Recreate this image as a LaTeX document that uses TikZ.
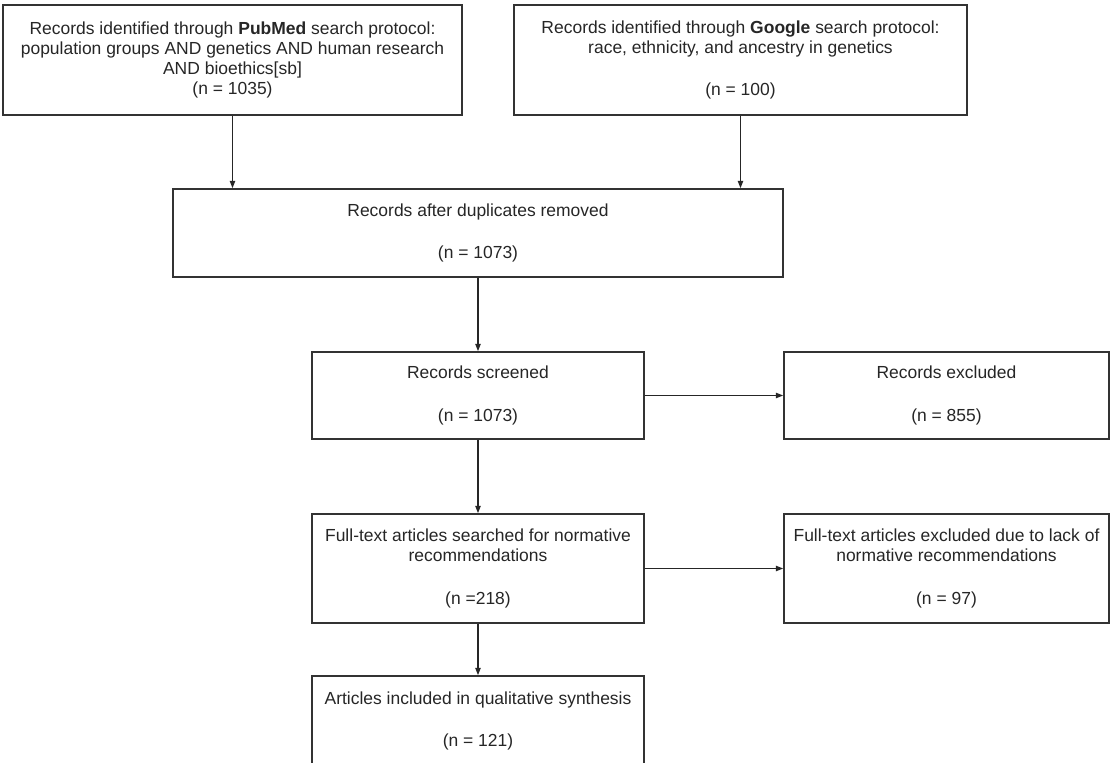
\documentclass[tikz,border=0pt]{standalone}
\usepackage{fontspec}
\setmainfont{Liberation Sans}
\usepackage{tikz}
\usetikzlibrary{arrows.meta}

\begin{document}
\begin{tikzpicture}[x = 0.75pt, y = -0.75pt, line width = 1.2pt,
                        box/.style = {rectangle, draw = black!80, align = center, inner sep = 0pt,
                                      font = \fontsize{13.1pt}{15pt}\selectfont, text = black!85},
                        arr/.style = {draw = black!85, line width = 1pt,
                                      -{Triangle[length = 5.5pt, width = 4pt]}}]
      \useasboundingbox (0, 0) rectangle (1110, 763);
      \node [box, minimum width = 344.25pt, minimum height = 82.5pt] (pub) at (232.5, 60)
            {Records identified through \textbf{PubMed} search protocol:\\
             population groups AND genetics AND human research\\
             AND bioethics[sb]\\ (n = 1035)};
      \node [box, minimum width = 339.75pt, minimum height = 82.5pt] (goo) at (740.5, 60)
            {Records identified through \textbf{Google} search protocol:\\
             race, ethnicity, and ancestry in genetics\\[17pt] (n = 100)};
      \node [box, minimum width = 457.5pt, minimum height = 66pt] (dup) at (478, 233)
            {Records after duplicates removed\\[17pt] (n = 1073)};
      \node [box, minimum width = 249pt, minimum height = 65.25pt] (scr) at (478, 395.5)
            {Records screened\\[17pt] (n = 1073)};
      \node [box, minimum width = 243.75pt, minimum height = 65.25pt] (exc) at (946.5, 395.5)
            {Records excluded\\[17pt] (n = 855)};
      \node [box, minimum width = 249pt, minimum height = 81.75pt] (full) at (478, 568.5)
            {Full-text articles searched for normative\\ recommendations\\[17pt] (n =218)};
      \node [box, minimum width = 243.75pt, minimum height = 81.75pt] (fexc) at (946.5, 568.5)
            {Full-text articles excluded due to lack of\\ normative recommendations\\[17pt] (n = 97)};
      \node [box, minimum width = 249pt, minimum height = 67.5pt] (incl) at (478, 721)
            {Articles included in qualitative synthesis\\[17pt] (n = 121)};
      \draw [arr] (pub.south) -- (pub.south |- dup.north);
      \draw [arr] (goo.south) -- (goo.south |- dup.north);
      \draw [arr] (dup) -- (scr);
      \draw [arr] (scr) -- (exc);
      \draw [arr] (scr) -- (full);
      \draw [arr] (full) -- (fexc);
      \draw [arr] (full) -- (incl);

      \end{tikzpicture}
\end{document}
